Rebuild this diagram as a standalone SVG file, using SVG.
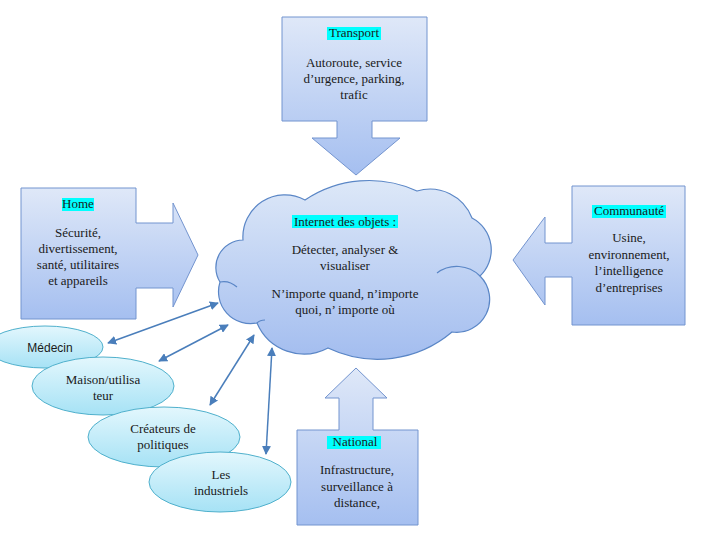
<svg xmlns="http://www.w3.org/2000/svg" width="701" height="541" viewBox="0 0 701 541">
<defs>
<linearGradient id="gBox" x1="0" y1="0" x2="0" y2="1">
<stop offset="0" stop-color="#dfe8f8"/>
<stop offset="1" stop-color="#a5bff0"/>
</linearGradient>
<linearGradient id="gCloud" x1="0" y1="0" x2="0" y2="1">
<stop offset="0" stop-color="#dde8f8"/>
<stop offset="1" stop-color="#a3bdef"/>
</linearGradient>
<linearGradient id="gEll" x1="0" y1="0" x2="0" y2="1">
<stop offset="0" stop-color="#e3f7fd"/>
<stop offset="1" stop-color="#a6e2f5"/>
</linearGradient>
<marker id="ah" viewBox="0 0 10 10" refX="9" refY="5" markerWidth="6" markerHeight="6" orient="auto-start-reverse" markerUnits="strokeWidth">
<path d="M0,0 L10,5 L0,10 Z" fill="#4a7ebb"/>
</marker>
</defs>
<style>
.box{fill:url(#gBox);stroke:#7394cf;stroke-width:1}
.cloud{fill:url(#gCloud);stroke:#5a86c6;stroke-width:1.2}
.inner{fill:none;stroke:#5a86c6;stroke-width:1.2}
.ell{fill:url(#gEll);stroke:#4fb0cc;stroke-width:1}
.t{font-family:'Liberation Serif','Times New Roman',serif;font-size:13px;fill:#1a1a1a;text-anchor:middle}
.s{font-family:'Liberation Sans',Arial,sans-serif;font-size:12px;fill:#1a1a1a;text-anchor:middle}
.hl{fill:#00ffff}
.conn{stroke:#4a7ebb;stroke-width:1.5;fill:none;marker-start:url(#ah);marker-end:url(#ah)}
</style>

<g id="transport">
<path class="box" d="M282,17 H427 V121 H372 V138 H400 L356,175 L312,138 H337 V121 H282 Z"/>
<rect class="hl" x="327" y="27" width="54" height="13"/>
<text class="t" x="354" y="37">Transport</text>
<text class="t" x="354" y="67">Autoroute, service</text>
<text class="t" x="354" y="83">d’urgence, parking,</text>
<text class="t" x="354" y="99">trafic</text>
</g>

<g id="home">
<path class="box" d="M21,188 H136 V223 H173 V203 L198,255 L173,307 V288 H136 V319 H21 Z"/>
<rect class="hl" x="62" y="198" width="32" height="13"/>
<text class="t" x="78" y="208">Home</text>
<text class="t" x="78" y="237">Sécurité,</text>
<text class="t" x="78" y="253">divertissement,</text>
<text class="t" x="78" y="269">santé, utilitaires</text>
<text class="t" x="78" y="285">et appareils</text>
</g>

<g id="communaute">
<path class="box" d="M572,186 H685 V325 H572 V277 H545 V305 L513,260 L545,217 V243 H572 Z"/>
<rect class="hl" x="592" y="205" width="74" height="13"/>
<text class="t" x="629" y="215">Communauté</text>
<text class="t" x="629" y="242">Usine,</text>
<text class="t" x="629" y="259">environnement,</text>
<text class="t" x="629" y="275">l’intelligence</text>
<text class="t" x="629" y="292">d’entreprises</text>
</g>

<g id="national">
<path class="box" d="M297,430 H339 V398 H325 L356,368 L387,398 H373 V430 H418 V525 H297 Z"/>
<rect class="hl" x="327" y="436" width="54" height="13"/>
<text class="t" x="355" y="446">National</text>
<text class="t" x="357" y="474">Infrastructure,</text>
<text class="t" x="357" y="491">surveillance à</text>
<text class="t" x="357" y="507">distance,</text>
</g>

<g id="cloud">
<path class="cloud" d="M220,282 A27.5,27.5 0 0 1 243,240 A42,42 0 0 1 305,200 A115,115 0 0 1 417,191 A45,45 0 0 1 472,218 A36,36 0 0 1 480,276 A33,33 0 0 1 452,332 A115,115 0 0 1 328,348 A51,51 0 0 1 257,323 A32,32 0 0 1 220,282 Z"/>
<path class="inner" d="M437,273 A33,33 0 0 1 480,276"/>
<path class="inner" d="M220,282 Q229,280 237,287"/>
<path class="inner" d="M257,323 Q260,320 265,320"/>
<rect class="hl" x="292" y="215" width="106" height="13"/>
<text class="t" x="345" y="226">Internet des objets :</text>
<text class="t" x="345" y="254">Détecter, analyser &amp;</text>
<text class="t" x="345" y="270">visualiser</text>
<text class="t" x="345" y="298">N’importe quand, n’importe</text>
<text class="t" x="345" y="314">quoi, n’ importe où</text>
</g>

<g id="medecin">
<ellipse class="ell" cx="45" cy="347" rx="58" ry="21"/>
<text class="s" x="50" y="352">Médecin</text>
</g>
<g id="maison">
<ellipse class="ell" cx="103" cy="386" rx="71" ry="29"/>
<text class="t" x="103" y="384">Maison/utilisa</text>
<text class="t" x="103" y="400">teur</text>
</g>
<g id="createurs">
<ellipse class="ell" cx="164" cy="437" rx="76" ry="30"/>
<text class="t" x="163" y="433">Créateurs de</text>
<text class="t" x="163" y="449">politiques</text>
</g>
<g id="industriels">
<ellipse class="ell" cx="220" cy="482" rx="71" ry="30"/>
<text class="t" x="221" y="479">Les</text>
<text class="t" x="221" y="495">industriels</text>
</g>

<g id="connectors">
<line class="conn" x1="108" y1="343" x2="218" y2="303"/>
<line class="conn" x1="159" y1="361" x2="228" y2="325"/>
<line class="conn" x1="210" y1="405" x2="254" y2="335"/>
<line class="conn" x1="266" y1="454" x2="272" y2="348"/>
</g>
</svg>
